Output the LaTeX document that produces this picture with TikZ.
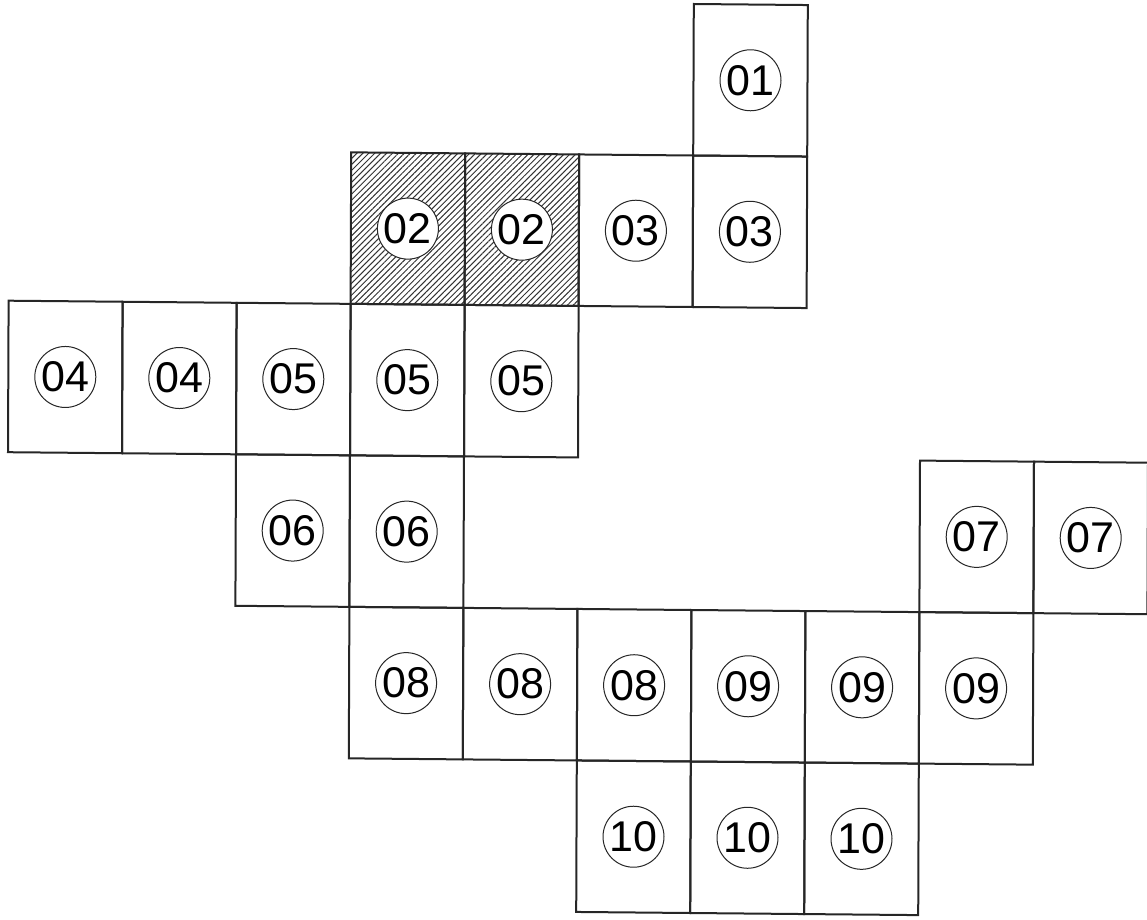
\documentclass[tikz,border=0pt]{standalone}
\usepackage{fontspec}
\setmainfont{Liberation Sans}
\usetikzlibrary{patterns.meta}
\tikzset{
  cellline/.style={line width=1pt, draw=black!85},
  hatched/.style={pattern={Lines[angle=45,distance=2.1pt,line width=0.5pt]}, pattern color=black!80},
  tag/.style={circle, draw=black!85, line width=0.5pt, fill=white, minimum size=30.5pt, inner sep=0pt,
              font=\fontsize{21.5}{21.5}\selectfont}
}
\newcommand{\gcell}[4][]{%
  \path[#1] (#2,#3) -- (#2+1,#3) -- (#2+1,#3+1) -- (#2,#3+1) -- cycle;
  \draw[cellline] (#2,#3) -- (#2+1,#3) -- (#2+1,#3+1) -- (#2,#3+1) -- cycle;
  \node[tag] (n#2x#3) at (#2+0.5,#3+0.5) {#4};
}
\begin{document}
\begin{tikzpicture}
\useasboundingbox (0,0) rectangle (573.5pt,-460pt);
\begin{scope}[shift={(4.9pt,1.15pt)}, x={(57pt,-0.525pt)}, y={(-0.3pt,-75.75pt)}]
  % row 0
  \gcell{6}{0}{01}
  % row 1
  \gcell[hatched]{3}{1}{02}
  \gcell[hatched]{4}{1}{02}
  \gcell{5}{1}{03}
  \gcell{6}{1}{03}
  % row 2
  \gcell{0}{2}{04}
  \gcell{1}{2}{04}
  \gcell{2}{2}{05}
  \gcell{3}{2}{05}
  \gcell{4}{2}{05}
  % row 3
  \gcell{2}{3}{06}
  \gcell{3}{3}{06}
  \gcell{8}{3}{07}
  \gcell{9}{3}{07}
  % row 4
  \gcell{3}{4}{08}
  \gcell{4}{4}{08}
  \gcell{5}{4}{08}
  \gcell{6}{4}{09}
  \gcell{7}{4}{09}
  \gcell{8}{4}{09}
  % row 5
  \gcell{5}{5}{10}
  \gcell{6}{5}{10}
  \gcell{7}{5}{10}
\end{scope}
\end{tikzpicture}
\end{document}
